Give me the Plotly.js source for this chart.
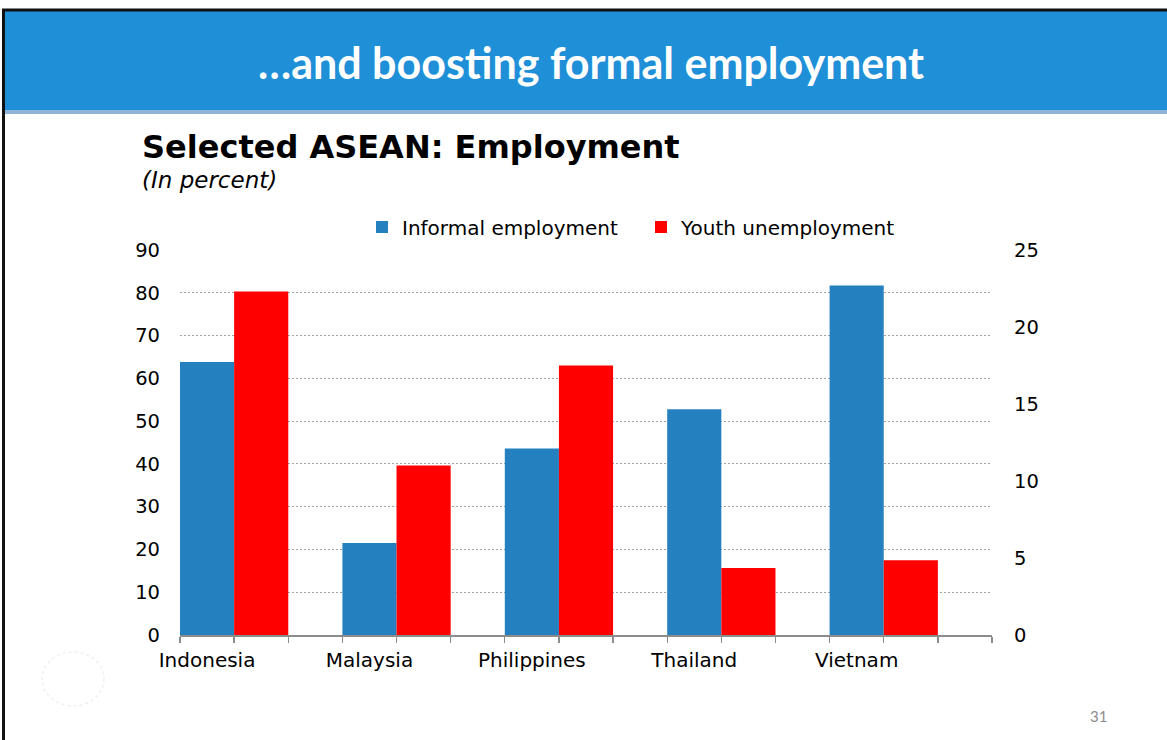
<!DOCTYPE html>
<html>
<head>
<meta charset="utf-8">
<script src="https://cdn.plot.ly/plotly-3.0.1.min.js"></script>
<style>
html,body{margin:0;padding:0;background:#fff;}
#chart{width:1167px;height:740px;}
</style>
</head>
<body>
<div id="chart"></div>
<script>
// ---- data ----
const countries = ["Indonesia", "Malaysia", "Philippines", "Thailand", "Vietnam"];
const informalEmployment = [63.8, 21.5, 43.6, 52.8, 81.7];   // left axis, percent
const youthUnemployment = [22.3, 11.0, 17.5, 4.35, 4.85];    // right axis, percent
const seriesNames = ["Informal employment", "Youth unemployment"];
const leftTicks = [0, 10, 20, 30, 40, 50, 60, 70, 80, 90];
const rightTicks = [0, 5, 10, 15, 20, 25];

// ---- layout helpers (pixel -> paper) ----
const L = 180, R = 992, T = 250, B = 635, W = 1167, H = 740;
const px = x => (x - L) / (R - L);
const py = y => (B - y) / (B - T);

// each country occupies 3 slots on the x axis: blue, red, empty
const slotsPerCountry = 3;
const blueX = countries.map((c, i) => i * slotsPerCountry + 0.5);
const redX = countries.map((c, i) => i * slotsPerCountry + 1.5);
const labelX = countries.map((c, i) => i * slotsPerCountry + 0.5);

const traces = [
  {
    type: "bar", name: seriesNames[0], x: blueX, y: informalEmployment,
    width: 1, marker: {color: "#2580BF", line: {width: 0}},
    xaxis: "x", yaxis: "y", hoverinfo: "y"
  },
  {
    type: "bar", name: seriesNames[1], x: redX, y: youthUnemployment,
    width: 1, marker: {color: "#FF0000", line: {width: 0}},
    xaxis: "x", yaxis: "y2", hoverinfo: "y"
  }
];

const FONT = "'DejaVu Sans', Verdana, sans-serif";
const tickFont = {family: FONT, size: 19.5, color: "#000"};

const layout = {
  width: W, height: H,
  margin: {l: L, r: W - R, t: T, b: H - B, pad: 0},
  paper_bgcolor: "#fff", plot_bgcolor: "#fff",
  barmode: "overlay",
  showlegend: true,
  legend: {
    orientation: "h", x: px(362), xanchor: "left", y: py(227), yanchor: "middle",
    font: {family: FONT, size: 20, color: "#000"},
    bgcolor: "rgba(0,0,0,0)", borderwidth: 0, traceorder: "normal",
    entrywidth: 234, entrywidthmode: "pixels"
  },
  xaxis: {
    type: "linear", range: [0, countries.length * slotsPerCountry], fixedrange: true,
    tickmode: "array", tickvals: labelX, ticktext: countries,
    ticks: "", ticklabelstandoff: 6,
    tickfont: {family: FONT, size: 20, color: "#000"},
    showline: true, linecolor: "#8c8c8c", linewidth: 1.5,
    showgrid: false, zeroline: false,
    minor: {tick0: 0, dtick: 1, ticks: "outside", ticklen: 6, tickwidth: 1.3, tickcolor: "#8c8c8c", showgrid: false}
  },
  yaxis: {
    range: [0, 90], tickmode: "array", tickvals: leftTicks, fixedrange: true,
    tickfont: tickFont, ticks: "", ticklabelstandoff: 19,
    showgrid: true, gridcolor: "#a3a3a3", gridwidth: 1, griddash: "2px,2px",
    zeroline: false, showline: false
  },
  yaxis2: {
    range: [0, 25], tickmode: "array", tickvals: rightTicks, fixedrange: true,
    overlaying: "y", side: "right",
    tickfont: tickFont, ticks: "", ticklabelstandoff: 21,
    showgrid: false, zeroline: false, showline: false
  },
  shapes: [
    // header band
    {type: "rect", xref: "paper", yref: "paper", x0: px(2), x1: px(W + 5), y0: py(11), y1: py(110),
      fillcolor: "#1F8FD8", line: {width: 0}, layer: "above"},
    {type: "rect", xref: "paper", yref: "paper", x0: px(5), x1: px(W + 5), y0: py(110), y1: py(114),
      fillcolor: "#8DB4D6", line: {width: 0}, layer: "above"},
    // slide border (top and left)
    {type: "line", xref: "paper", yref: "paper", x0: px(2), x1: px(W + 5), y0: py(10), y1: py(10),
      line: {color: "#111", width: 3}, layer: "above"},
    {type: "line", xref: "paper", yref: "paper", x0: px(3.5), x1: px(3.5), y0: py(9), y1: py(H + 5),
      line: {color: "#111", width: 3}, layer: "above"},
    // faint emblem bottom-left
    {type: "circle", xref: "paper", yref: "paper", x0: px(42), x1: px(104), y0: py(652), y1: py(706),
      fillcolor: "rgba(0,0,0,0)", line: {color: "#ececec", width: 1.2, dash: "dot"}, layer: "above"}
  ],
  annotations: [
    {text: "<b>…and boosting formal employment</b>", xref: "paper", yref: "paper",
      x: px(591), y: py(62), xanchor: "center", yanchor: "middle", showarrow: false,
      font: {family: "Lato, 'Open Sans', sans-serif", size: 43, color: "#fff"}},
    {text: "<b>Selected ASEAN: Employment</b>", xref: "paper", yref: "paper",
      x: px(140), y: py(147), xanchor: "left", yanchor: "middle", showarrow: false,
      font: {family: FONT, size: 32, color: "#000"}},
    {text: "<i>(In percent)</i>", xref: "paper", yref: "paper",
      x: px(140), y: py(180), xanchor: "left", yanchor: "middle", showarrow: false,
      font: {family: FONT, size: 23, color: "#000"}},
    {text: "31", xref: "paper", yref: "paper",
      x: px(1098), y: py(716), xanchor: "center", yanchor: "middle", showarrow: false,
      font: {family: "Lato, 'Open Sans', sans-serif", size: 15, color: "#8c8c8c"}}
  ]
};

Plotly.newPlot("chart", traces, layout, {displayModeBar: false, staticPlot: true});
</script>
</body>
</html>
